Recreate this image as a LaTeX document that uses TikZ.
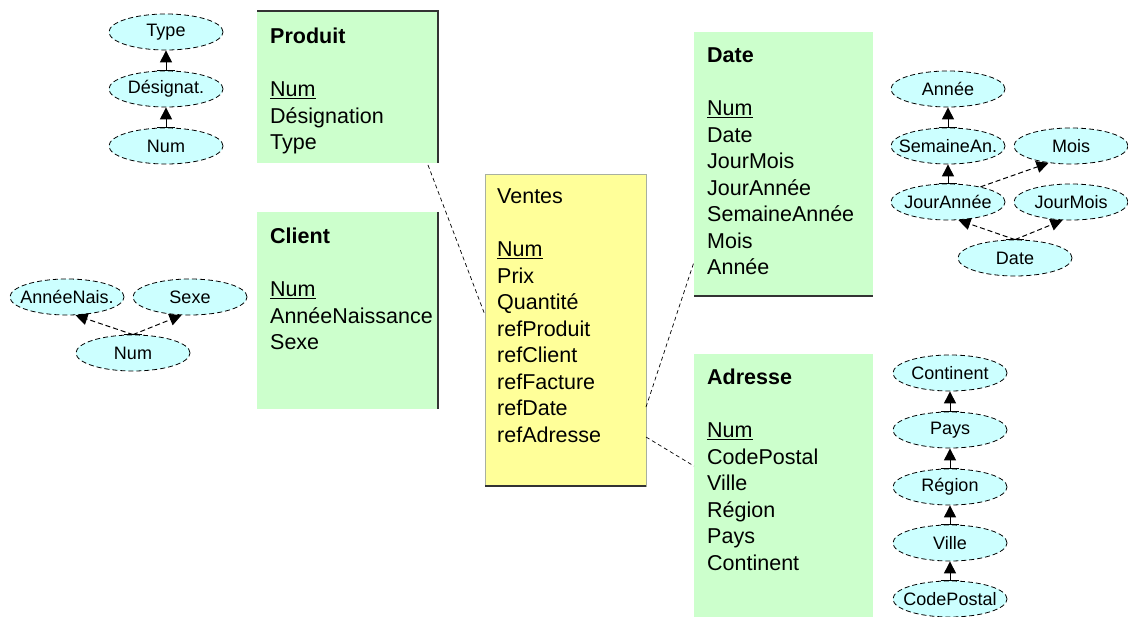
\documentclass[tikz,border=0pt]{standalone}
\usepackage{fontspec}
\setmainfont{Liberation Sans}
\usetikzlibrary{shapes.geometric,arrows.meta,calc}
\definecolor{tblgreen}{HTML}{CCFFCC}
\definecolor{factyellow}{HTML}{FFFF99}
\definecolor{attrcyan}{HTML}{CCFFFF}
\definecolor{edgegrey}{HTML}{A8B0A0}
\begin{document}
\begin{tikzpicture}[x=1pt,y=-1pt,
  tbl/.style={rectangle, anchor=north west, inner sep=0pt, outer sep=0pt, draw=none},
  dimtbl/.style={tbl, fill=tblgreen, minimum width=180pt},
  tbltext/.style={anchor=base west, inner sep=0pt, font=\fontsize{21.5}{26.5}\selectfont},
  % fixed-size attribute ellipse: the label sits in a zero-width box so it never widens the shape
  attr/.style={ellipse, draw, dash pattern=on 5pt off 3pt, line width=0.8pt, fill=attrcyan,
    minimum width=114pt, minimum height=36pt, inner sep=0pt, font=\fontsize{18}{20}\selectfont,
    execute at begin node=\hbox to 0pt\bgroup\hss, execute at end node=\hss\egroup},
  hier/.style={-{Triangle[length=12pt,width=12pt]}, line width=1pt},
  hierd/.style={hier, dash pattern=on 5pt off 3pt},
  link/.style={dash pattern=on 4pt off 3pt, line width=0.7pt},
  darkedge/.style={line width=1.2pt, black!80}
]
\useasboundingbox (0,0) rectangle (1128,617);

% ---- tables ----
\node[dimtbl, minimum height=152pt, minimum width=181pt] (produit) at (257,11) {};
\node[dimtbl, minimum height=197pt, minimum width=181pt] (client) at (257,212) {};
\node[tbl, fill=factyellow, draw=edgegrey, line width=0.6pt, minimum width=161pt, minimum height=312pt] (ventes) at (485,174) {};
\node[dimtbl, minimum height=264pt, minimum width=179pt] (date) at (694,32) {};
\node[dimtbl, minimum height=263pt, minimum width=179pt] (adresse) at (694,354) {};

\draw[darkedge] (produit.north west) -- (produit.north east) -- (produit.south east);
\draw[darkedge] (client.north east) -- (client.south east);
\draw[darkedge] (ventes.south west) -- (ventes.south east);
\draw[darkedge] (date.south west) -- (date.south east);

\node[tbltext] (produit-t) at ([shift={(13pt,-33pt)}]produit.north west)
  {\begin{tabular}[t]{@{}l@{}}\textbf{Produit}\\ \\ \underline{Num}\\ Désignation\\ Type\end{tabular}};
\node[tbltext] (client-t) at ([shift={(13pt,-32pt)}]client.north west)
  {\begin{tabular}[t]{@{}l@{}}\textbf{Client}\\ \\ \underline{Num}\\ AnnéeNaissance\\ Sexe\end{tabular}};
\node[tbltext] (ventes-t) at ([shift={(12pt,-30pt)}]ventes.north west)
  {\begin{tabular}[t]{@{}l@{}}Ventes\\ \\ \underline{Num}\\ Prix\\ Quantité\\ refProduit\\ refClient\\ refFacture\\ refDate\\ refAdresse\end{tabular}};
\node[tbltext] (date-t) at ([shift={(13pt,-31pt)}]date.north west)
  {\begin{tabular}[t]{@{}l@{}}\textbf{Date}\\ \\ \underline{Num}\\ Date\\ JourMois\\ JourAnnée\\ SemaineAnnée\\ Mois\\ Année\end{tabular}};
\node[tbltext] (adresse-t) at ([shift={(13pt,-31pt)}]adresse.north west)
  {\begin{tabular}[t]{@{}l@{}}\textbf{Adresse}\\ \\ \underline{Num}\\ CodePostal\\ Ville\\ Région\\ Pays\\ Continent\end{tabular}};

% ---- links between the fact table and the dimensions ----
\draw[link] ([shift={(-10pt,-2pt)}]produit.south east) -- ($(ventes.north west)!0.452!(ventes.south west)$);
\draw[link] ($(ventes.north east)!0.747!(ventes.south east)$) -- ($(date.north west)!0.871!(date.south west)$);
\draw[link] ($(ventes.north east)!0.843!(ventes.south east)$) -- ($(adresse.north west)!0.426!(adresse.south west)$);

% ---- product hierarchy ----
\node[attr] (ptype) at (166,32) {Type};
\node[attr] (pdes) at (166,89) {Désignat.};
\node[attr] (pnum) at (166,146) {Num};
\draw[hier] (pnum.north) -- (pdes.south);
\draw[hier] (pdes.north) -- (ptype.south);

% ---- client hierarchy ----
\node[attr] (cnais) at (67,297) {AnnéeNais.};
\node[attr] (csexe) at (190,297) {Sexe};
\node[attr] (cnum) at (133,353) {Num};
\draw[hierd] (cnum.north) -- (cnais.-65);
\draw[hierd] (cnum.north) -- (csexe.-115);

% ---- date hierarchy ----
\node[attr] (dannee) at (948,89) {Année};
\node[attr] (dsem) at (948,146) {SemaineAn.};
\node[attr] (dmois) at (1071,146) {Mois};
\node[attr] (djannee) at (948,202) {JourAnnée};
\node[attr] (djmois) at (1071,202) {JourMois};
\node[attr] (ddate) at (1015,258) {Date};
\draw[hier] (dsem.north) -- (dannee.south);
\draw[hier] (djannee.north) -- (dsem.south);
\draw[hierd] (djannee.25) -- (dmois.-143);
\draw[hierd] (ddate.north) -- (djannee.-60);
\draw[hierd] (ddate.north) -- (djmois.-115);

% ---- address hierarchy ----
\node[attr] (acont) at (950,373) {Continent};
\node[attr] (apays) at (950,430) {Pays};
\node[attr] (areg) at (950,487) {Région};
\node[attr] (aville) at (950,543) {Ville};
\node[attr] (acp) at (950,599) {CodePostal};
\draw[hier] (apays.north) -- (acont.south);
\draw[hier] (areg.north) -- (apays.south);
\draw[hier] (aville.north) -- (areg.south);
\draw[hier] (acp.north) -- (aville.south);

% solid attachment marks on the source ellipses
\foreach \n in {pnum,pdes,cnum,dsem,djannee,ddate,apays,areg,aville,acp}
  \draw[line width=1.1pt] ([xshift=-9pt]\n.north) -- ([xshift=9pt]\n.north);
\end{tikzpicture}
\end{document}
